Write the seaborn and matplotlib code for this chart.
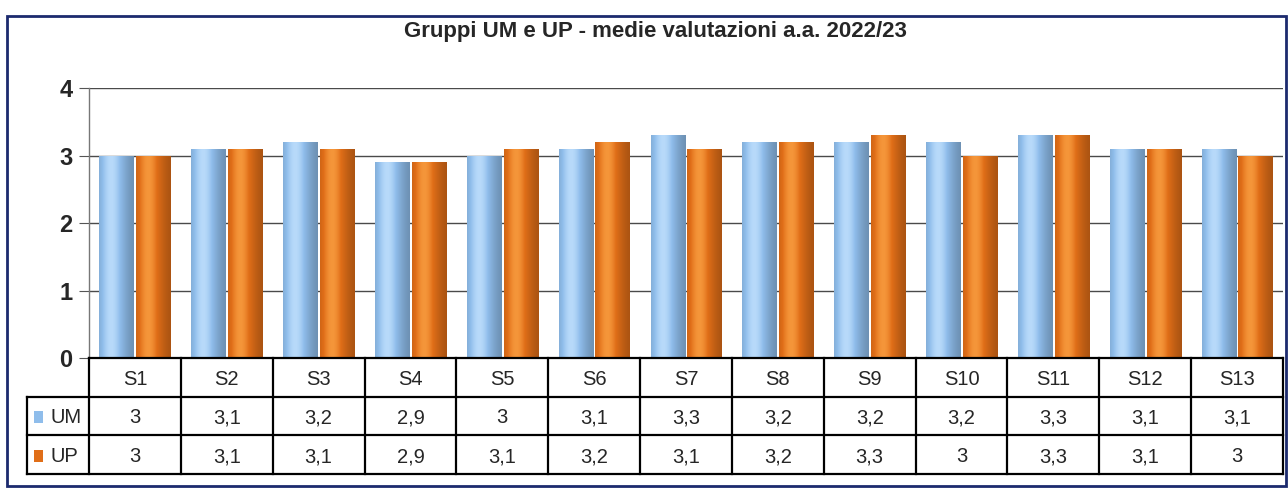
import numpy as np
import pandas as pd
import matplotlib
matplotlib.use("Agg")
import matplotlib.pyplot as plt
import seaborn as sns
from matplotlib.patches import Rectangle
from matplotlib.colors import to_rgb

categories = ["S1", "S2", "S3", "S4", "S5", "S6", "S7", "S8", "S9", "S10", "S11", "S12", "S13"]
um_values = [3.0, 3.1, 3.2, 2.9, 3.0, 3.1, 3.3, 3.2, 3.2, 3.2, 3.3, 3.1, 3.1]
up_values = [3.0, 3.1, 3.1, 2.9, 3.1, 3.2, 3.1, 3.2, 3.3, 3.0, 3.3, 3.1, 3.0]
series_names = ["UM", "UP"]
um_labels = ["3", "3,1", "3,2", "2,9", "3", "3,1", "3,3", "3,2", "3,2", "3,2", "3,3", "3,1", "3,1"]
up_labels = ["3", "3,1", "3,1", "2,9", "3,1", "3,2", "3,1", "3,2", "3,3", "3", "3,3", "3,1", "3"]
title = "Gruppi UM e UP - medie valutazioni a.a. 2022/23"
yticks = [0, 1, 2, 3, 4]

df = pd.DataFrame({
    "cat": categories * 2,
    "val": um_values + up_values,
    "group": ["UM"] * len(categories) + ["UP"] * len(categories),
})

sns.set_style("white")
plt.rcParams['font.family'] = ['Liberation Sans', 'DejaVu Sans']

W, H = 1288, 490
fig = plt.figure(figsize=(W / 100, H / 100), dpi=100)

blue = "#8FBDEB"
orange = "#E06E18"

# main axes
x0, x1 = 89, 1283
y_top, y_bot = 88, 358
ax = fig.add_axes([x0 / W, 1 - y_bot / H, (x1 - x0) / W, (y_bot - y_top) / H])
sns.barplot(data=df, x="cat", y="val", hue="group", palette=[blue, orange],
            width=0.8, gap=0.07, legend=False, ax=ax, linewidth=0, saturation=1)

# gradient shading on bars
def grad(base, light):
    c = np.array(to_rgb(base))
    lc = np.array(to_rgb(light))
    n = 64
    t = np.linspace(0, 1, n)
    prof = np.exp(-((t - 0.35) / 0.45) ** 2)
    cols = []
    for p in prof:
        f = 0.72 + 0.38 * p
        if f < 1:
            cc = c * f
        else:
            cc = c + (lc - c) * (f - 1) / 0.1
        cols.append(np.append(np.clip(cc, 0, 1), 1.0))
    return np.array(cols)[None, :, :]

for p in list(ax.patches):
    bx, by = p.get_x(), p.get_y()
    bw, bh = p.get_width(), p.get_height()
    fc = p.get_facecolor()
    is_blue = abs(fc[2] - to_rgb(blue)[2]) < 0.05
    img = grad(blue, "#B8DAFA") if is_blue else grad(orange, "#F5963A")
    im = ax.imshow(img, extent=[bx, bx + bw, by, by + bh], aspect="auto",
                   zorder=p.get_zorder() + 0.1, interpolation="bilinear")
    im.set_clip_path(p)

ax.set_xlim(-0.5, len(categories) - 0.5)
ax.set_ylim(0, 4)
ax.set_yticks(yticks)
ax.set_yticklabels([str(v) for v in yticks], fontsize=17, fontweight="bold")
ax.set_xticks([])
ax.set_xlabel("")
ax.set_ylabel("")
ax.yaxis.grid(True, color="#4a4a4a", linewidth=1.0)
ax.set_axisbelow(True)
for s in ["top", "right", "bottom"]:
    ax.spines[s].set_visible(False)
ax.spines["left"].set_color("#777777")
ax.spines["left"].set_linewidth(1.0)
ax.tick_params(axis="y", length=7, color="#555555", pad=5, left=True)

# title
fig.text(655 / W, 1 - 31 / H, title, ha="center", va="center", fontsize=16, fontweight="bold")

# data table
tb_top, tb_bot = 358, 474
tax = fig.add_axes([x0 / W, 1 - tb_bot / H, (x1 - x0) / W, (tb_bot - tb_top) / H])
n = len(categories)
tax.set_xlim(-0.5, n - 0.5)
tax.set_ylim(3, 0)
tax.axis("off")
cw = (x1 - x0) / n
leg_left = -0.5 - (x0 - 27) / cw
lk = dict(color="black", linewidth=1.6, clip_on=False, solid_capstyle="projecting")
tax.plot([-0.5, n - 0.5], [0, 0], **lk)
for yy in [1, 2, 3]:
    tax.plot([leg_left, n - 0.5], [yy, yy], **lk)
for k in range(n + 1):
    tax.plot([-0.5 + k, -0.5 + k], [0, 3], **lk)
tax.plot([leg_left, leg_left], [1, 3], **lk)

fs = 14.5
for i, c in enumerate(categories):
    tax.text(i, 0.55, c, ha="center", va="center", fontsize=fs)
    tax.text(i, 1.55, um_labels[i], ha="center", va="center", fontsize=fs)
    tax.text(i, 2.55, up_labels[i], ha="center", va="center", fontsize=fs)

sq_x = -0.5 - (x0 - 34) / cw
sq_w = 9 / cw
for r, (name, col) in enumerate(zip(series_names, [blue, orange])):
    tax.add_patch(Rectangle((sq_x, 1 + r + 0.38), sq_w, 0.3, facecolor=col,
                            edgecolor="none", clip_on=False))
    tax.text(-0.5 - (x0 - 50) / cw, 1 + r + 0.55, name, ha="left", va="center", fontsize=fs)

# outer frame
fig.patches.append(Rectangle((7 / W, 1 - 486 / H), (1286 - 7) / W, (486 - 16) / H,
                             transform=fig.transFigure, fill=False,
                             edgecolor="#1c2a6e", linewidth=2.0))

fig.savefig("out.png", dpi=100, facecolor="white")
